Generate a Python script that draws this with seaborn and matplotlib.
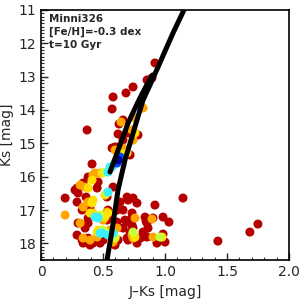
import numpy as np
import pandas as pd
import matplotlib
matplotlib.use("Agg")
import matplotlib.pyplot as plt
from matplotlib.ticker import MultipleLocator
import seaborn as sns

# star colours (J-Ks), magnitudes (Ks) and density level (0 = sparse ... 6 = densest)
jk = [0.919, 0.895, 0.855, 0.742, 0.685, 0.581, 0.573, 0.798, 0.823, 0.661,
      0.645, 0.758, 0.629, 0.371, 0.621, 0.702, 0.734, 0.782, 0.758, 0.742,
      0.597, 0.621, 0.661, 0.661, 0.694, 0.573, 0.597, 0.637, 0.637, 0.621,
      0.613, 0.597, 0.573, 0.556, 0.540, 0.516, 0.492, 0.476, 0.411, 0.435,
      0.419, 0.379, 0.460, 0.411, 0.339, 0.315, 0.355, 0.379, 0.290, 0.274,
      0.452, 0.298, 0.194, 0.363, 0.540, 0.532, 0.516, 0.581, 0.694, 0.718,
      0.379, 0.411, 0.419, 0.532, 0.637, 0.702, 0.774, 0.742, 0.290, 0.339,
      0.331, 0.395, 0.419, 0.395, 0.435, 0.452, 0.460, 0.476, 0.492, 0.516,
      0.500, 0.379, 0.532, 0.540, 0.540, 0.532, 0.556, 0.613, 0.661, 0.734,
      0.758, 0.677, 0.734, 0.194, 0.298, 0.315, 0.355, 0.379, 0.613, 0.694,
      0.290, 0.379, 0.395, 0.339, 0.339, 0.331, 0.395, 0.419, 0.452, 0.476,
      0.500, 0.460, 0.452, 0.492, 0.516, 0.540, 0.556, 0.581, 0.597, 0.573,
      0.597, 0.581, 0.500, 0.476, 0.621, 0.597, 0.661, 0.613, 0.694, 0.734,
      0.718, 0.734, 0.742, 0.758, 0.702, 0.774, 0.798, 0.823, 0.855, 0.839,
      0.847, 0.919, 1.145, 0.903, 0.895, 0.984, 1.032, 0.863, 0.742, 0.742,
      0.815, 0.855, 0.903, 0.960, 0.976, 0.984, 0.935, 1.000, 1.427, 1.685,
      1.750]
ks = [12.59, 13.04, 13.10, 13.31, 13.49, 13.61, 13.97, 13.85, 13.94, 14.30,
      14.36, 14.24, 14.42, 14.60, 14.72, 14.69, 14.60, 14.75, 14.69, 14.90,
      15.11, 15.11, 14.90, 15.14, 15.29, 15.14, 15.20, 15.29, 15.41, 15.50,
      15.59, 15.59, 15.71, 15.71, 15.86, 15.86, 15.89, 15.89, 15.62, 15.89,
      15.95, 16.01, 16.16, 16.10, 16.19, 16.25, 16.31, 16.34, 16.34, 16.40,
      16.34, 16.49, 16.64, 16.61, 16.46, 16.49, 16.55, 16.31, 16.61, 15.35,
      16.76, 16.79, 16.70, 16.61, 16.76, 16.70, 16.79, 16.64, 16.76, 16.91,
      17.00, 16.94, 17.09, 17.09, 17.21, 17.21, 17.24, 17.15, 17.21, 17.21,
      17.30, 17.24, 17.06, 17.09, 17.00, 17.30, 17.24, 17.00, 17.00, 17.09,
      17.24, 17.30, 17.21, 17.15, 17.39, 17.39, 17.54, 17.39, 17.36, 17.36,
      17.75, 17.84, 17.90, 17.84, 17.99, 17.90, 18.05, 17.99, 17.66, 17.69,
      17.60, 17.60, 17.81, 17.69, 17.66, 17.75, 17.60, 17.69, 17.81, 17.84,
      17.84, 17.96, 17.90, 17.99, 17.90, 18.05, 17.54, 17.54, 17.84, 17.45,
      17.66, 17.75, 17.66, 17.81, 17.90, 17.99, 17.84, 17.66, 17.39, 17.21,
      17.33, 16.85, 16.64, 17.24, 17.27, 17.21, 17.36, 17.54, 17.54, 17.84,
      17.81, 17.81, 17.81, 17.81, 17.81, 17.72, 17.99, 17.96, 17.93, 17.66,
      17.42]
lvl = [0, 0, 0, 0, 0, 0, 0, 0, 1, 0,
       1, 1, 0, 0, 0, 0, 1, 0, 2, 1,
       0, 0, 0, 1, 2, 0, 1, 2, 5, 6,
       5, 4, 4, 4, 4, 3, 2, 1, 0, 1,
       1, 0, 0, 2, 0, 1, 1, 2, 0, 0,
       0, 0, 0, 0, 4, 3, 2, 0, 0, 0,
       1, 2, 2, 0, 0, 0, 0, 0, 0, 1,
       0, 0, 2, 2, 4, 4, 4, 3, 2, 2,
       1, 0, 1, 2, 0, 0, 0, 0, 0, 0,
       1, 0, 0, 1, 0, 1, 0, 0, 0, 0,
       0, 0, 1, 1, 0, 0, 0, 0, 2, 4,
       3, 2, 1, 4, 3, 4, 1, 4, 3, 2,
       2, 1, 0, 0, 0, 0, 0, 1, 0, 0,
       0, 1, 3, 2, 0, 0, 0, 0, 0, 0,
       0, 0, 0, 0, 1, 0, 0, 0, 0, 1,
       0, 0, 1, 3, 2, 0, 0, 0, 0, 0,
       0]

# isochrone (RGB and AGB branches)
rgb_jk = [0.532, 0.573, 0.621, 0.677, 0.726, 0.774, 0.823, 0.879, 0.944, 1.065, 1.161]
rgb_ks = [18.5, 17.6, 16.4, 15.5, 14.9, 14.3, 13.7, 13.25, 12.71, 11.69, 10.94]
agb_jk = [0.556, 0.637, 0.702, 0.790, 0.860, 0.900]
agb_ks = [15.86, 15.05, 14.39, 13.70, 13.20, 12.95]

level_colors = {0: "#b40000", 1: "#ffa500", 2: "#ffe100", 3: "#c8ff3c",
                4: "#3cf0ff", 5: "#0050ff", 6: "#0000a0"}

df = pd.DataFrame({"jk": jk, "ks": ks, "lvl": lvl}).sort_values("lvl", kind="stable")

sns.set_style("ticks")
plt.rcParams["font.family"] = ["DejaVu Sans"]

fig = plt.figure(figsize=(3, 3), dpi=100)
ax = fig.add_axes([0.137, 0.133, 0.826, 0.834])

sns.scatterplot(data=df, x="jk", y="ks", hue="lvl", palette=level_colors,
                s=42, linewidth=0, legend=False, ax=ax, zorder=2)
ax.plot(rgb_jk, rgb_ks, color="black", lw=3.6, solid_capstyle="round", zorder=3)
ax.plot(agb_jk, agb_ks, color="black", lw=3.6, solid_capstyle="round", zorder=3)

ax.set_xlim(0, 2.0)
ax.set_ylim(18.5, 11)
ax.xaxis.set_minor_locator(MultipleLocator(0.1))
ax.yaxis.set_major_locator(MultipleLocator(1))
ax.yaxis.set_minor_locator(MultipleLocator(0.1))
ax.set_xticks([0, 0.5, 1.0, 1.5, 2.0])
ax.set_xticklabels(["0", "0.5", "1.0", "1.5", "2.0"])
ax.tick_params(which="major", direction="in", length=5, width=1, labelsize=10)
ax.tick_params(which="minor", direction="in", length=2.5, width=0.8)
for sp in ax.spines.values():
    sp.set_linewidth(1.2)
    sp.set_color("black")

ax.set_xlabel("J\u2013Ks [mag]", fontsize=10)
ax.set_ylabel("Ks [mag]", fontsize=10, labelpad=3)

ax.text(0.03, 0.985, "Minni326\n[Fe/H]=-0.3 dex\nt=10 Gyr", transform=ax.transAxes,
        ha="left", va="top", fontsize=7.5, fontweight="bold", linespacing=1.35)

fig.savefig("out.png", dpi=100)
